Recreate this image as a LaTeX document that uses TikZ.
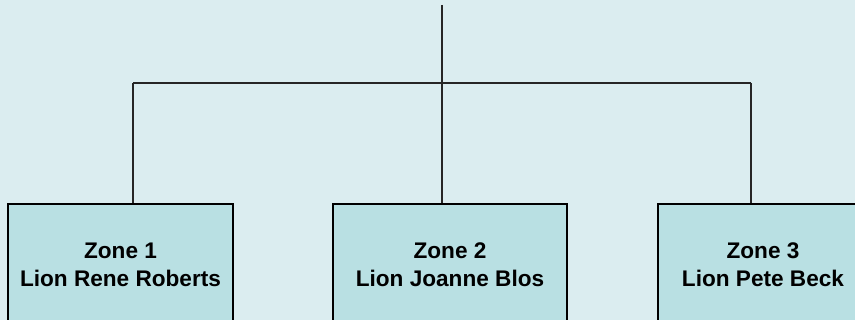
\documentclass[tikz,border=0pt]{standalone}
\usepackage{fontspec}
\setmainfont{Liberation Sans}
\definecolor{bgcol}{RGB}{219,237,240}
\definecolor{boxfill}{RGB}{185,224,227}
\begin{document}
\begin{tikzpicture}[x=1pt,y=1pt,
  zonebox/.style={draw=black, line width=2pt, fill=boxfill, rectangle,
    minimum height=122pt, inner sep=0pt, align=center,
    font=\fontsize{22.6}{28}\selectfont\bfseries},
  conn/.style={draw=black!85, line width=1.5pt}]
\useasboundingbox (0,0) rectangle (855,320);
\clip (0,0) rectangle (855,320);
\fill[bgcol] (0,0) rectangle (855,320);
\node[zonebox, minimum width=225pt] (z1) at (120.5,55) {Zone 1\\Lion Rene Roberts};
\node[zonebox, minimum width=234pt] (z2) at (450,55) {Zone 2\\Lion Joanne Blos};
\node[zonebox, minimum width=210pt] (z3) at (763,55) {Zone 3\\Lion Pete Beck};
\coordinate (top) at (442,315);
\coordinate (j1) at (133,237);
\coordinate (j2) at (442,237);
\coordinate (j3) at (751,237);
\draw[conn] (j1) -- (j3);
\draw[conn] (top) -- (j2 |- z2.north);
\draw[conn] (j1) -- (j1 |- z1.north);
\draw[conn] (j3) -- (j3 |- z3.north);
\end{tikzpicture}
\end{document}
